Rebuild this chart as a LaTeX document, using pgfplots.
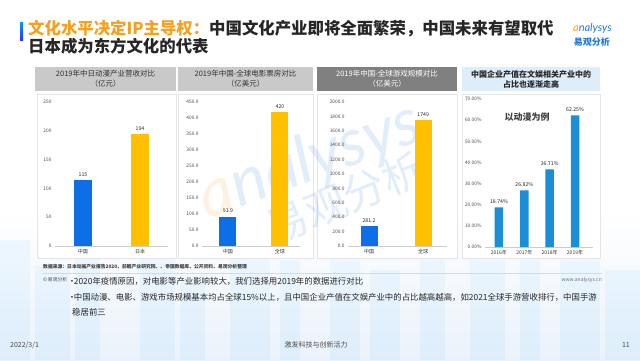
\documentclass[border=0pt]{standalone}
\usepackage{pgfplots}
\pgfplotsset{compat=1.18}
\usepackage{fontspec}
\setmainfont{Noto Sans CJK SC}
\newfontfamily\logofont{Lato}
\definecolor{cblue}{RGB}{14,110,230}
\definecolor{cyel}{RGB}{255,192,0}
\definecolor{cblue4}{RGB}{26,142,214}
\definecolor{torange}{RGB}{246,160,30}
\definecolor{hgray}{RGB}{201,201,201}
\definecolor{hdark}{RGB}{128,128,128}
\definecolor{hblue}{RGB}{221,237,250}
\definecolor{txt}{RGB}{38,38,38}
\definecolor{bgblue}{RGB}{234,242,251}
\definecolor{logoblue}{RGB}{30,120,220}
\newcommand{\bul}{\kern-0.28em•\kern-0.28em}
\pgfplotsset{
 base/.style={scale only axis, anchor=south west, ybar, bar shift=0pt,
  axis x line=bottom, axis y line=left,
  y axis line style={draw=none}, x axis line style={draw=gray!40, line width=0.6pt, -},
  tick style={draw=none}, major tick length=0pt,
  ticklabel style={font=\fontsize{4.8}{5}\selectfont, text=black!70},
  xticklabel style={font=\fontsize{5}{6}\selectfont, text=black!80},
  nodes near coords, nodes near coords style={font=\fontsize{5.2}{6}\selectfont, text=txt},
  /pgf/number format/assume math mode=true, /pgf/number format/1000 sep={},
  clip=false, ymin=0}
}
\begin{document}
\begin{tikzpicture}[x=1pt,y=1pt]
\useasboundingbox (0,0) rectangle (640,360);
\fill[white] (0,0) rectangle (640,360);
\shade[top color=white, bottom color=bgblue] (0,0) rectangle (640,150);
% faint buildings
\foreach \a/\b/\h in {0/30/120,35/70/95,75/100/140,140/175/110,180/205/80,230/270/130,280/300/100,330/360/150,370/400/90,420/445/125,470/505/105,520/540/135,560/600/115,605/640/90}{
 \fill[blue!40!cyan, opacity=0.05] (\a,0) rectangle (\b,\h);
}
% title
\shade[top color=cyan!60!blue, bottom color=blue!80] (20,320) rectangle (23,338);
\node[anchor=west, inner sep=0] at (28,331) {\fontsize{16.4}{18}\selectfont\bfseries\color{torange}文化水平决定IP主导权：\color{txt}中国文化产业即将全面繁荣，中国未来有望取代};
\node[anchor=west, inner sep=0] at (28,314) {\fontsize{16.4}{18}\selectfont\bfseries\color{txt}日本成为东方文化的代表};
% logo
\node[anchor=east, inner sep=0] at (612,332) {\logofont\itshape\fontsize{11}{12}\selectfont\color{torange}a\color{logoblue}nalysys};
\node[anchor=east, inner sep=0] at (610,318) {\fontsize{9}{10}\selectfont\bfseries\color{logoblue}易观分析};
% headers
\fill[hgray] (35,269) rectangle (176,293);
\fill[hgray] (178,269) rectangle (313,293);
\fill[hdark] (317,269) rectangle (457,293);
\fill[hblue] (462,269) rectangle (600,293);
\node[align=center, text=black!80, font=\fontsize{7.5}{10}\selectfont] at (105.5,281) {2019年中日动漫产业营收对比\\（亿元）};
\node[align=center, text=black!80, font=\fontsize{7.5}{10}\selectfont] at (245.5,281) {2019年中国-全球电影票房对比\\（亿美元）};
\node[align=center, text=white, font=\fontsize{7.5}{10}\selectfont] at (387,281) {2019年中国-全球游戏规模对比\\（亿美元）};
\node[align=center, text=txt, font=\fontsize{8}{10}\selectfont\bfseries] at (531,281) {中国企业产值在文娱相关产业中的\\占比也逐渐走高};
% frames
\draw[gray!20, fill=white] (37,102) rectangle (176,266);
\draw[gray!20, fill=white] (178,102) rectangle (313,266);
\draw[gray!20, fill=white] (317,102) rectangle (457,266);
\draw[gray!20, fill=white] (462,102) rectangle (600,266);
% watermark
\node[rotate=20, opacity=0.13, inner sep=0] at (310,198) {\logofont\itshape\fontsize{66}{66}\selectfont\color{torange}a\color{logoblue}nalysys};
\node[rotate=22, opacity=0.13, inner sep=0] at (345,162) {\fontsize{42}{42}\selectfont\color{logoblue}易观分析};
% panel 1
\begin{axis}[base, at={(55pt,114pt)}, width=113pt, height=144pt, xmin=-0.49, xmax=1.49, ymax=250, ytick={0,50,...,250}, xtick={0,1}, xticklabels={中国,日本}, bar width=18pt]
\addplot[fill=cblue, draw=none] coordinates {(0,115)};
\addplot[fill=cyel, draw=none] coordinates {(1,194)};
\end{axis}
% panel 2
\begin{axis}[base, at={(202pt,114pt)}, width=98pt, height=144pt, xmin=-0.5, xmax=1.385, ymax=450, ytick={0,50,...,450}, xtick={0,1}, xticklabels={中国,全球}, bar width=17pt, yticklabel style={/pgf/number format/.cd, fixed, fixed zerofill, precision=1}]
\addplot[fill=cblue, draw=none] coordinates {(0,91.9)};
\addplot[fill=cyel, draw=none] coordinates {(1,420)};
\end{axis}
% panel 3
\begin{axis}[base, at={(348pt,114pt)}, width=99pt, height=144pt, xmin=-0.39, xmax=1.44, ymax=2000, ytick={0,200,...,2000}, xtick={0,1}, xticklabels={中国,全球}, bar width=17pt, yticklabel style={/pgf/number format/.cd, fixed, fixed zerofill, precision=1}]
\addplot[fill=cblue, draw=none] coordinates {(0,281.2)};
\addplot[fill=cyel, draw=none] coordinates {(1,1749)};
\end{axis}
% panel 4
\begin{axis}[base, at={(485pt,113pt)}, width=108pt, height=148pt, xmin=-0.55, xmax=3.71, ymax=70, ytick={0,10,...,70}, xtick={0,1,2,3}, xticklabels={2016年,2017年,2018年,2019年}, bar width=8.5pt,
 yticklabel={\pgfmathprintnumber[fixed,fixed zerofill,precision=2]{\tick}\%},
 nodes near coords={\pgfmathprintnumber[fixed,fixed zerofill,precision=2]{\pgfplotspointmeta}\%}]
\addplot[fill=cblue4, draw=none] coordinates {(0,18.74) (1,26.82) (2,36.71) (3,62.25)};
\end{axis}
\node[text=black!75] at (527,243) {\fontsize{9}{10}\selectfont\bfseries 以动漫为例};
% bottom texts
\node[anchor=west, inner sep=0, text=black!75] at (43,93) {\fontsize{4.8}{5}\selectfont\bfseries 数据来源：日本动画产业报告2020、前瞻产业研究院、、帝国数据库、公开资料、易观分析整理};
\draw[gray!30] (43,87) -- (602,87);
\node[anchor=west, inner sep=0, text=black!70] at (43,80) {\fontsize{4.8}{5}\selectfont ©\,易观分析};
\node[anchor=east, inner sep=0, text=black!55] at (602,80) {\fontsize{5}{6}\selectfont www.analysys.cn};
\node[anchor=west, inner sep=0, text=txt] at (70,79) {\fontsize{8.4}{10}\selectfont \bul 2020年疫情原因，对电影等产业影响较大，我们选择用2019年的数据进行对比};
\node[anchor=west, inner sep=0, text=txt] at (70,63) {\fontsize{8.4}{10}\selectfont \bul 中国动漫、电影、游戏市场规模基本均占全球15\%以上，且中国企业产值在文娱产业中的占比越高越高，如2021全球手游营收排行，中国手游};
\node[anchor=west, inner sep=0, text=txt] at (72,48) {\fontsize{8.4}{10}\selectfont 稳居前三};
\node[anchor=west, inner sep=0, text=black!70] at (10,15) {\fontsize{7}{8}\selectfont 2022/3/1};
\node[inner sep=0, text=black!70] at (316,15) {\fontsize{7}{8}\selectfont 激发科技与创新活力};
\node[anchor=east, inner sep=0, text=black!70] at (630,15) {\fontsize{7}{8}\selectfont 11};
\end{tikzpicture}
\end{document}
